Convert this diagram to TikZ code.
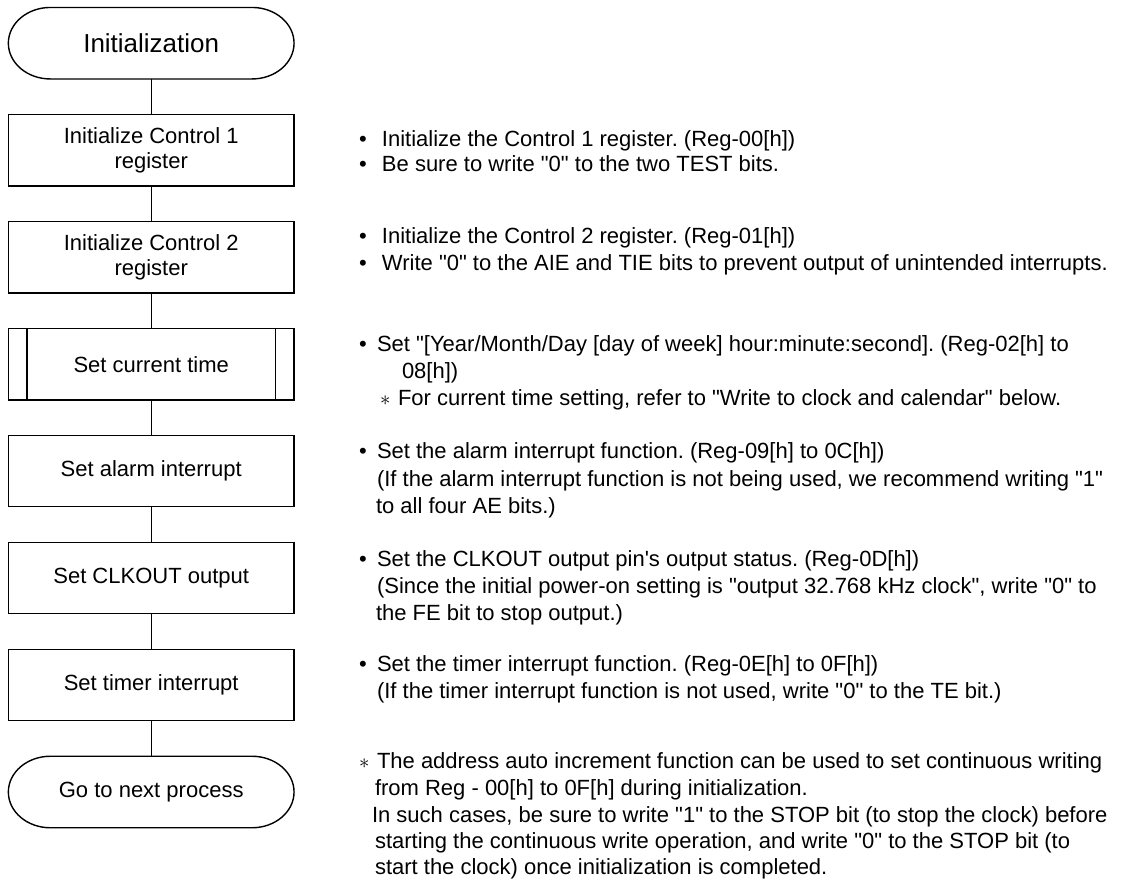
\documentclass[tikz,border=0pt]{standalone}
\usepackage{fontspec}
\setmainfont{Liberation Sans}
\newcommand\fsbox{\fontsize{22}{25}\selectfont\frenchspacing}
\newcommand\fsbig{\fontsize{26}{30}\selectfont}
\newcommand\fstxt{\fontsize{22}{27}\selectfont\frenchspacing}
\newcommand\bul[1]{\makebox[#1][l]{•}}
\newcommand\astmark{\makebox[18pt][l]{$\ast$}}
\newcommand\qq[1]{\textquotedbl #1\textquotedbl}
\begin{document}
\begin{tikzpicture}[x=1pt,y=-1pt,
  every node/.style={inner sep=0pt,outer sep=0pt},
  stepbox/.style={draw=black,line width=1.4pt,minimum width=285.7pt,minimum height=71.5pt,align=center,font=\fsbox},
  termbox/.style={minimum width=285.7pt,minimum height=71.5pt,align=center},
  termline/.style={draw=black,line width=1.4pt},
  conn/.style={draw=black,line width=1.4pt},
  txt/.style={anchor=base west,font=\fstxt}]
\useasboundingbox (0,0) rectangle (1132,879);
\fill[white] (0,0) rectangle (1132,879);

% flow nodes
\node[termbox,font=\fsbig] (init) at (151.2,43.2) {Initialization};
\node[stepbox] (c1) at (151.2,150.2) {Initialize Control 1\\register};
\node[stepbox] (c2) at (151.2,257.3) {Initialize Control 2\\register};
\node[stepbox] (sct) at (151.2,364.3) {Set current time};
\node[stepbox] (sai) at (151.2,471) {Set alarm interrupt};
\node[stepbox] (sco) at (151.2,578) {Set CLKOUT output};
\node[stepbox] (sti) at (151.2,685) {Set timer interrupt};
\node[termbox,font=\fsbox] (next) at (151.2,792) {Go to next process};

% terminal outlines
\foreach \t in {init,next}{
  \draw[termline] ([xshift=42pt]\t.north west) -- ([xshift=-42pt]\t.north east)
    arc[start angle=90,end angle=-90,x radius=42pt,y radius=35.75pt]
    -- ([xshift=42pt]\t.south west)
    arc[start angle=270,end angle=90,x radius=42pt,y radius=35.75pt] -- cycle;
}
% predefined process side bars
\draw[termline] ([xshift=18.5pt]sct.north west) -- ([xshift=18.5pt]sct.south west);
\draw[termline] ([xshift=-18.5pt]sct.north east) -- ([xshift=-18.5pt]sct.south east);

% connectors
\draw[conn] (init) -- (c1);
\draw[conn] (c1) -- (c2);
\draw[conn] (c2) -- (sct);
\draw[conn] (sct) -- (sai);
\draw[conn] (sai) -- (sco);
\draw[conn] (sco) -- (sti);
\draw[conn] (sti) -- (next);

% notes
\node[txt] (t1a) at (359,146) {\bul{23pt}Initialize the Control 1 register. (Reg-00[h])};
\node[txt] (t1b) at (359,171) {\bul{23pt}Be sure to write \qq{0} to the two TEST bits.};

\node[txt] (t2a) at (359,243) {\bul{23pt}Initialize the Control 2 register. (Reg-01[h])};
\node[txt] (t2b) at (359,270) {\bul{23pt}Write \qq{0} to the AIE and TIE bits to prevent output of unintended interrupts.};

\node[txt] (t3a) at (359,351) {\bul{18pt}Set \textquotedbl[Year/Month/Day [day of week] hour:minute:second]. (Reg-02[h] to};
\node[txt] (t3b) at (402,378) {08[h])};
\node[txt] (t3c) at (380,405) {\astmark For current time setting, refer to \qq{Write to clock and calendar} below.};

\node[txt] (t4a) at (359,458) {\bul{18pt}Set the alarm interrupt function. (Reg-09[h] to 0C[h])};
\node[txt] (t4b) at (377,486) {(If the alarm interrupt function is not being used, we recommend writing \qq{1}};
\node[txt] (t4c) at (376,513) {to all four AE bits.)};

\node[txt] (t5a) at (359,566) {\bul{18pt}Set the CLKOUT output pin\textquotesingle s output status. (Reg-0D[h])};
\node[txt] (t5b) at (377,593) {(Since the initial power-on setting is \qq{output 32.768 kHz clock}, write \qq{0} to};
\node[txt] (t5c) at (376,620) {the FE bit to stop output.)};

\node[txt] (t6a) at (359,671) {\bul{18pt}Set the timer interrupt function. (Reg-0E[h] to 0F[h])};
\node[txt] (t6b) at (377,698) {(If the timer interrupt function is not used, write \qq{0} to the TE bit.)};

\node[txt] (t7a) at (359,768) {\astmark The address auto increment function can be used to set continuous writing};
\node[txt] (t7b) at (375,795) {from Reg - 00[h] to 0F[h] during initialization.};
\node[txt] (t7c) at (372,822) {In such cases, be sure to write \qq{1} to the STOP bit (to stop the clock) before};
\node[txt] (t7d) at (375,848) {starting the continuous write operation, and write \qq{0} to the STOP bit (to};
\node[txt] (t7e) at (375,874) {start the clock) once initialization is completed.};
\end{tikzpicture}
\end{document}
